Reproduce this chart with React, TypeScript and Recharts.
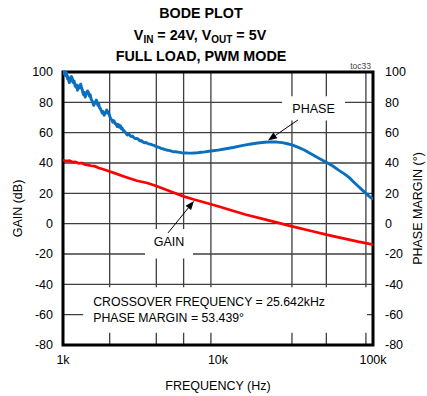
import React from "react";
import {
  LineChart,
  Line,
  XAxis,
  YAxis,
  CartesianGrid,
  ReferenceArea,
  ReferenceLine,
} from "recharts";

// frequency (Hz) points
const phaseFreq = [
  1000, 1010, 1020, 1030, 1040, 1050, 1060, 1070, 1080, 1090, 1100, 1110, 1120,
  1135, 1150, 1165, 1180, 1195, 1210, 1225, 1240, 1255, 1270, 1285, 1300, 1315,
  1330, 1345, 1360, 1375, 1390, 1405, 1420, 1440, 1460, 1480, 1500, 1520, 1540,
  1560, 1580, 1600, 1620, 1640, 1660, 1680, 1700, 1720, 1740, 1765, 1790, 1815,
  1840, 1865, 1890, 1915, 1940, 1965, 1990, 2015, 2040, 2065, 2090, 2115, 2140,
  2165, 2190, 2215, 2240, 2265, 2290, 2320, 2350, 2380, 2410, 2440, 2470, 2505,
  2540, 2570, 2600, 2640, 2680, 2720, 2760, 2800, 2850, 2900, 2950, 3000, 3050,
  3100, 3150, 3200, 3250, 3310, 3380, 3440, 3500, 3570, 3650, 3720, 3800, 3870,
  3950, 4020, 4100, 4200, 4300, 4400, 4500, 4600, 4700, 4820, 4950, 5070, 5200,
  5350, 5500, 5650, 5800, 6000, 6200, 6400, 6600, 6800, 7000, 7300, 7600, 8200,
  9000, 10000, 11000, 12500, 14000, 16000, 18000, 20000, 22000, 24000, 26000,
  28000, 30000, 33000, 36000, 40000, 45000, 50000, 55000, 60000, 65000, 70000,
  75000, 80000, 85000, 90000, 95000, 100000,
];
const phaseDeg = [
  99, 100, 98.5, 100, 97.5, 99.5, 98, 95.5, 97, 94, 93, 95.5, 94, 97, 95.5, 93,
  94, 91, 90, 91.5, 88, 90, 91, 89.5, 92, 90, 88.5, 86, 85, 86.5, 83.5, 85, 86,
  87.5, 86.5, 84, 85, 82, 81, 79.5, 78, 80, 79.5, 81.5, 80, 78, 79, 76.5, 76,
  74.5, 73, 74, 71.5, 72.5, 73, 75, 74, 72.5, 72, 70, 69, 68.5, 67, 68, 67.5,
  66, 66, 65, 64, 65.5, 65, 63.5, 64.5, 62.5, 63, 61.5, 61.5, 60.5, 60, 59,
  58.5, 59.5, 58.8, 57.8, 57.5, 57.8, 57, 56.3, 56, 56.2, 55.8, 55, 54.5, 54.8,
  54.2, 53.6, 53.3, 53.5, 53, 52.6, 52.4, 52.2, 51.8, 51.6, 51, 50.9, 50.4,
  50.1, 49.6, 49.5, 49, 48.8, 48.4, 48.3, 48, 47.7, 47.4, 47.4, 47.2, 47, 46.8,
  46.7, 46.6, 46.5, 46.5, 46.5, 46.6, 46.7, 46.9, 47.3, 47.9, 48.5, 49.2, 50.2,
  51.3, 52.4, 53.2, 53.7, 53.9, 53.8, 53.4, 52.7, 51.9, 50.3, 48.6, 46, 43,
  40.5, 38, 35.3, 33, 30.5, 27.5, 24.8, 22.3, 20, 17.8, 16,
];

const gainFreq = [
  1000, 1050, 1100, 1150, 1200, 1260, 1320, 1380, 1450, 1520, 1600, 1700, 1800,
  1900, 2000, 2200, 2500, 3000, 3500, 4000, 5000, 6000, 7000, 8000, 10000,
  12000, 15000, 20000, 25642, 30000, 40000, 50000, 60000, 70000, 80000, 90000,
  100000,
];
const gainDb = [
  42, 41.2, 41.5, 40.6, 40.8, 39.8, 40, 39, 38.6, 38.2, 37.9, 36.7, 36, 35.2,
  34.4, 33, 31, 28.3, 26.8, 24.8, 21, 18, 15.9, 14.3, 11.5, 9, 6, 2.8, 0, -1.8,
  -4.8, -7.2, -9, -10.5, -11.8, -12.8, -13.8,
];

const xTicks = [1000, 10000, 100000];
const xMinor = [
  2000, 3000, 4000, 5000, 6000, 7000, 8000, 9000, 20000, 30000, 40000, 50000,
  60000, 70000, 80000, 90000,
];
const yTicks = [-80, -60, -40, -20, 0, 20, 40, 60, 80, 100];

const phaseData = phaseFreq.map((f, i) => ({ f, v: phaseDeg[i] }));
const gainData = gainFreq.map((f, i) => ({ f, v: gainDb[i] }));

const FONT = '"Liberation Sans", Arial, sans-serif';
const tickStyle = { fill: "#000", fontSize: 12.5, fontFamily: FONT };

// arrow with a filled head at (x2, y2)
const Arrow = (props: any) => {
  const { x1, y1, x2, y2 } = props;
  const a = Math.atan2(y2 - y1, x2 - x1);
  const len = 9;
  const w = 3.5;
  const bx = x2 - len * Math.cos(a);
  const by = y2 - len * Math.sin(a);
  const px = -Math.sin(a) * w;
  const py = Math.cos(a) * w;
  return (
    <g>
      <line x1={x1} y1={y1} x2={bx} y2={by} stroke="#000" strokeWidth={1} />
      <polygon
        points={`${x2},${y2} ${bx + px},${by + py} ${bx - px},${by - py}`}
        fill="#000"
      />
    </g>
  );
};

const CrossoverText = (props: any) => {
  const { x, y } = props.viewBox;
  return (
    <text fontFamily={FONT} fontSize={12.3} fill="#000">
      <tspan x={x + 10} y={y + 19}>
        CROSSOVER FREQUENCY = 25.642kHz
      </tspan>
      <tspan x={x + 10} y={y + 35}>
        PHASE MARGIN = 53.439°
      </tspan>
    </text>
  );
};

export default function App() {
  return (
    <div style={{ position: "absolute", left: 0, top: 0, width: 427, height: 396 }}>
      <svg
        width={427}
        height={396}
        style={{ position: "absolute", left: 0, top: 0 }}
        fontFamily={FONT}
      >
        <text x={201} y={18} textAnchor="middle" fontSize={14.3} fontWeight="bold">
          BODE PLOT
        </text>
        <text x={200} y={40} textAnchor="middle" fontSize={14.3} fontWeight="bold">
          V<tspan fontSize={10} dy={3}>IN</tspan>
          <tspan dy={-3}> = 24V, V</tspan>
          <tspan fontSize={10} dy={3}>OUT</tspan>
          <tspan dy={-3}> = 5V</tspan>
        </text>
        <text x={201} y={61} textAnchor="middle" fontSize={14.3} fontWeight="bold">
          FULL LOAD, PWM MODE
        </text>
        <text x={371} y={69} textAnchor="end" fontSize={8.5} fill="#444">
          toc33
        </text>
      </svg>
      <LineChart
        width={427}
        height={396}
        margin={{ top: 72, right: 0, bottom: 0, left: 0 }}
        style={{ position: "absolute", left: 0, top: 0 }}
      >
        <CartesianGrid
          stroke="#3f3f3f"
          strokeWidth={1.3}
          verticalValues={xMinor}
          horizontalValues={yTicks}
        />
        <XAxis
          type="number"
          dataKey="f"
          scale="log"
          domain={[1000, 100000]}
          ticks={xTicks}
          allowDataOverflow
          tickFormatter={(v: number) => `${v / 1000}k`}
          axisLine={false}
          tickLine={false}
          height={51}
          tickMargin={4}
          tick={tickStyle}
          label={{
            value: "FREQUENCY (Hz)",
            position: "center",
            dy: 15,
            fill: "#000",
            fontSize: 12.5,
            fontFamily: FONT,
          }}
        />
        <YAxis
          type="number"
          domain={[-80, 100]}
          ticks={yTicks}
          axisLine={false}
          tickLine={false}
          width={63}
          tickMargin={4}
          tick={tickStyle}
          label={{
            value: "GAIN (dB)",
            angle: -90,
            position: "center",
            dx: -14,
            fill: "#000",
            fontSize: 12.5,
            fontFamily: FONT,
          }}
        />
        <YAxis
          yAxisId="phase"
          orientation="right"
          type="number"
          domain={[-80, 100]}
          ticks={yTicks}
          axisLine={false}
          tickLine={false}
          width={54}
          tickMargin={6}
          tick={tickStyle}
          label={{
            value: "PHASE MARGIN (°)",
            angle: -90,
            position: "center",
            dx: 18,
            fill: "#000",
            fontSize: 12.5,
            fontFamily: FONT,
          }}
        />
        {/* white label boxes that cut the grid */}
        <ReferenceArea
          x1={25900}
          x2={66000}
          y1={68}
          y2={84}
          fill="#fff"
          fillOpacity={1}
          stroke="none"
          label={{
            value: "PHASE",
            position: "center",
            fill: "#000",
            fontSize: 12.5,
            fontFamily: FONT,
          }}
        />
        <ReferenceArea
          x1={3380}
          x2={6900}
          y1={-23}
          y2={-3.5}
          fill="#fff"
          fillOpacity={1}
          stroke="none"
          label={{
            value: "GAIN",
            position: "center",
            dy: -2,
            fill: "#000",
            fontSize: 12.5,
            fontFamily: FONT,
          }}
        />
        <ReferenceArea
          x1={1350}
          x2={91500}
          y1={-72}
          y2={-42}
          fill="#fff"
          fillOpacity={1}
          stroke="none"
          label={<CrossoverText />}
        />
        <ReferenceLine
          segment={[
            { x: 32800, y: 68.4 },
            { x: 21000, y: 54.8 },
          ]}
          shape={Arrow}
        />
        <ReferenceLine
          segment={[
            { x: 4760, y: -6.1 },
            { x: 7000, y: 15 },
          ]}
          shape={Arrow}
        />
        <Line
          data={gainData}
          dataKey="v"
          stroke="#ff0000"
          strokeWidth={2.7}
          dot={false}
          isAnimationActive={false}
        />
        <Line
          yAxisId="phase"
          data={phaseData}
          dataKey="v"
          stroke="#0b6fc0"
          strokeWidth={2.9}
          strokeLinejoin="round"
          dot={false}
          isAnimationActive={false}
        />
        <ReferenceArea
          x1={1000}
          x2={100000}
          y1={-80}
          y2={100}
          fill="none"
          stroke="#000"
          strokeWidth={3}
        />
      </LineChart>
    </div>
  );
}
